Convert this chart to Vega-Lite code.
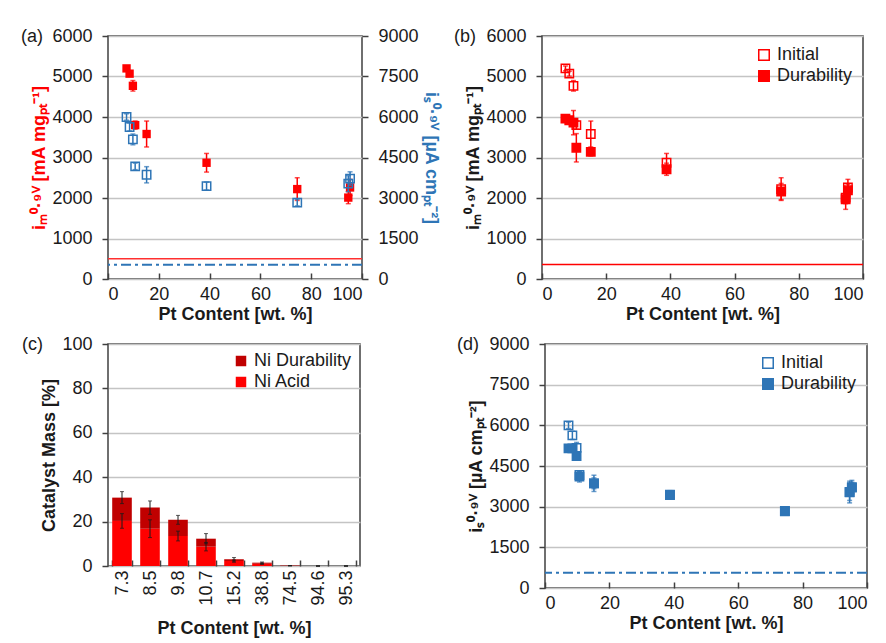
{
  "$schema": "https://vega.github.io/schema/vega-lite/v6.json",
  "background": "white",
  "padding": {"left": 20, "top": 26, "right": 5, "bottom": 5},
  "resolve": {"scale": {"fill": "independent", "color": "independent"}, "legend": {"fill": "independent", "color": "independent"}},
  "spacing": 10,
  "datasets": {
    "act": [
      {"pt": 7.3, "state": "Initial", "im": 5200, "im_err": 60, "is": 6000, "is_err": 120},
      {"pt": 8.5, "state": "Initial", "im": 5070, "im_err": 60, "is": 5630, "is_err": 150},
      {"pt": 9.8, "state": "Initial", "im": 4770, "im_err": 130, "is": 5170, "is_err": 200},
      {"pt": 10.7, "state": "Initial", "im": 3800, "im_err": 100, "is": 4170, "is_err": 120},
      {"pt": 15.2, "state": "Initial", "im": 3580, "im_err": 320, "is": 3860, "is_err": 300},
      {"pt": 38.8, "state": "Initial", "im": 2870, "im_err": 230, "is": 3440, "is_err": 150},
      {"pt": 74.5, "state": "Initial", "im": 2220, "im_err": 280, "is": 2830, "is_err": 120},
      {"pt": 94.6, "state": "Initial", "im": 2010, "im_err": 150, "is": 3530, "is_err": 300},
      {"pt": 95.3, "state": "Initial", "im": 2260, "im_err": 200, "is": 3720, "is_err": 250},
      {"pt": 7.3, "state": "Durability", "im": 3960, "im_err": 60, "is": 5150, "is_err": 100},
      {"pt": 8.5, "state": "Durability", "im": 3920, "im_err": 60, "is": 5150, "is_err": 100},
      {"pt": 9.8, "state": "Durability", "im": 3860, "im_err": 300, "is": 4870, "is_err": 150},
      {"pt": 10.7, "state": "Durability", "im": 3240, "im_err": 350, "is": 4110, "is_err": 200},
      {"pt": 15.2, "state": "Durability", "im": 3140, "im_err": 100, "is": 3860, "is_err": 200},
      {"pt": 38.8, "state": "Durability", "im": 2710, "im_err": 150, "is": 3430, "is_err": 150},
      {"pt": 74.5, "state": "Durability", "im": 2160, "im_err": 200, "is": 2840, "is_err": 100},
      {"pt": 94.6, "state": "Durability", "im": 1970, "im_err": 250, "is": 3540, "is_err": 400},
      {"pt": 95.3, "state": "Durability", "im": 2190, "im_err": 150, "is": 3700, "is_err": 200}
    ],
    "ni": [
      {"pt": "7.3", "Ni Acid": 20.3, "Ni Durability": 10.5, "total": 30.8, "total_err": 2.7, "acid_err": 3.3},
      {"pt": "8.5", "Ni Acid": 16.8, "Ni Durability": 9.5, "total": 26.3, "total_err": 3.0, "acid_err": 4.0},
      {"pt": "9.8", "Ni Acid": 13.5, "Ni Durability": 7.3, "total": 20.8, "total_err": 2.0, "acid_err": 2.2},
      {"pt": "10.7", "Ni Acid": 8.7, "Ni Durability": 3.6, "total": 12.3, "total_err": 2.3, "acid_err": 1.9},
      {"pt": "15.2", "Ni Acid": 2.2, "Ni Durability": 0.8, "total": 3.0, "total_err": 0.8, "acid_err": 0.5},
      {"pt": "38.8", "Ni Acid": 1.0, "Ni Durability": 0.5, "total": 1.5, "total_err": 0.3, "acid_err": 0.3},
      {"pt": "74.5", "Ni Acid": 0.1, "Ni Durability": 0.1, "total": 0.2, "total_err": 0, "acid_err": 0},
      {"pt": "94.6", "Ni Acid": 0, "Ni Durability": 0, "total": 0, "total_err": 0, "acid_err": 0},
      {"pt": "95.3", "Ni Acid": 0, "Ni Durability": 0, "total": 0, "total_err": 0, "acid_err": 0}
    ],
    "refs": [
      {"panel": "a_im", "y": 500},
      {"panel": "a_is", "y": 530},
      {"panel": "b_im", "y": 360},
      {"panel": "d_is", "y": 560}
    ]
  },
  "config": {
    "font": "Liberation Sans",
    "view": {"stroke": "#404040", "strokeWidth": 1.5},
    "axis": {
      "labelFont": "Liberation Sans", "titleFont": "Liberation Sans",
      "labelFontSize": 18, "titleFontSize": 18, "titleFontWeight": "bold",
      "labelColor": "#1a1a1a", "titleColor": "#1a1a1a",
      "domain": false, "tickColor": "#404040", "tickWidth": 1.5,
      "gridColor": "#c4c4c4", "gridWidth": 1.5
    },
    "axisQuantitative": {"format": "d"},
    "axisX": {"grid": false, "tickSize": -6, "labelPadding": 12, "titlePadding": 2},
    "axisY": {"tickSize": 6, "labelPadding": 10, "titlePadding": 3},
    "legend": {"labelFont": "Liberation Sans", "labelFontSize": 18, "labelColor": "#1a1a1a", "symbolSize": 110, "symbolType": "square", "padding": 0, "rowPadding": 3, "labelOffset": 4},
    "title": {"font": "Liberation Sans", "fontSize": 18, "fontWeight": "normal", "color": "#1a1a1a", "anchor": "start", "frame": "group", "baseline": "middle"}
  },
  "vconcat": [
    {
      "spacing": 13,
      "resolve": {"scale": {"fill": "independent", "color": "independent"}, "legend": {"fill": "independent", "color": "independent"}},
      "hconcat": [
        {
          "width": 254, "height": 243,
          "title": {"text": "(a)", "dx": -87, "offset": -19},
          "layer": [
            {
              "layer": [
                {
                  "data": {"name": "refs"},
                  "transform": [{"filter": "datum.panel === 'a_im'"}],
                  "mark": {"type": "rule", "color": "#ff3030", "strokeWidth": 1.5},
                  "encoding": {
                    "y": {"field": "y", "type": "quantitative", "scale": {"domain": [0, 6000], "nice": false}, "title": "iₘ⁰·⁹ⱽ [mA mgₚₜ⁻¹]",
                      "axis": {"values": [0, 1000, 2000, 3000, 4000, 5000, 6000], "titleColor": "#ff0000"}}
                  }
                },
                {
                  "data": {"name": "act"},
                  "transform": [{"filter": "datum.state === 'Initial'"}],
                  "mark": {"type": "errorbar", "ticks": {"size": 5}, "color": "#ff0000", "thickness": 1.5},
                  "encoding": {
                    "x": {"field": "pt", "type": "quantitative", "scale": {"domain": [0, 100]}, "title": "Pt Content [wt. %]"},
                    "y": {"field": "im", "type": "quantitative", "title": "iₘ⁰·⁹ⱽ [mA mgₚₜ⁻¹]"},
                    "yError": {"field": "im_err"}
                  }
                },
                {
                  "data": {"name": "act"},
                  "transform": [{"filter": "datum.state === 'Initial'"}],
                  "mark": {"type": "square", "filled": true, "color": "#ff0000", "size": 70, "opacity": 1},
                  "encoding": {
                    "x": {"field": "pt", "type": "quantitative", "scale": {"domain": [0, 100]}, "title": "Pt Content [wt. %]",
                      "axis": {"values": [0, 20, 40, 60, 80, 100]}},
                    "y": {"field": "im", "type": "quantitative", "title": "iₘ⁰·⁹ⱽ [mA mgₚₜ⁻¹]"}
                  }
                }
              ]
            },
            {
              "layer": [
                {
                  "data": {"name": "refs"},
                  "transform": [{"filter": "datum.panel === 'a_is'"}],
                  "mark": {"type": "rule", "color": "#2e75b6", "strokeWidth": 2, "strokeDash": [10, 4, 3, 4]},
                  "encoding": {
                    "y": {"field": "y", "type": "quantitative", "scale": {"domain": [0, 9000], "nice": false}, "title": "iₛ⁰·⁹ⱽ [µA cmₚₜ⁻²]",
                      "axis": {"orient": "right", "grid": false, "values": [0, 1500, 3000, 4500, 6000, 7500, 9000], "titleColor": "#2e75b6"}}
                  }
                },
                {
                  "data": {"name": "act"},
                  "transform": [{"filter": "datum.state === 'Initial'"}],
                  "mark": {"type": "errorbar", "ticks": {"size": 5}, "color": "#2e75b6", "thickness": 1.5},
                  "encoding": {
                    "x": {"field": "pt", "type": "quantitative", "title": "Pt Content [wt. %]"},
                    "y": {"field": "is", "type": "quantitative", "title": "iₛ⁰·⁹ⱽ [µA cmₚₜ⁻²]"},
                    "yError": {"field": "is_err"}
                  }
                },
                {
                  "data": {"name": "act"},
                  "transform": [{"filter": "datum.state === 'Initial'"}],
                  "mark": {"type": "square", "filled": false, "color": "#2e75b6", "size": 70, "strokeWidth": 1.5, "opacity": 1},
                  "encoding": {
                    "x": {"field": "pt", "type": "quantitative", "title": "Pt Content [wt. %]"},
                    "y": {"field": "is", "type": "quantitative", "title": "iₛ⁰·⁹ⱽ [µA cmₚₜ⁻²]"}
                  }
                }
              ]
            }
          ],
          "resolve": {"scale": {"y": "independent"}, "axis": {"y": "independent"}}
        },
        {
          "width": 321, "height": 243,
          "title": {"text": "(b)", "dx": -88, "offset": -19},
          "layer": [
            {
              "data": {"name": "refs"},
              "transform": [{"filter": "datum.panel === 'b_im'"}],
              "mark": {"type": "rule", "color": "#ff0000", "strokeWidth": 1.5},
              "encoding": {
                "y": {"field": "y", "type": "quantitative", "scale": {"domain": [0, 6000], "nice": false}, "title": "iₘ⁰·⁹ⱽ [mA mgₚₜ⁻¹]",
                  "axis": {"values": [0, 1000, 2000, 3000, 4000, 5000, 6000]}}
              }
            },
            {
              "data": {"name": "act"},
              "mark": {"type": "errorbar", "ticks": {"size": 5}, "color": "#ff0000", "thickness": 1.5},
              "encoding": {
                "x": {"field": "pt", "type": "quantitative", "scale": {"domain": [0, 100]}, "title": "Pt Content [wt. %]"},
                "y": {"field": "im", "type": "quantitative", "title": "iₘ⁰·⁹ⱽ [mA mgₚₜ⁻¹]"},
                "yError": {"field": "im_err"}
              }
            },
            {
              "data": {"name": "act"},
              "mark": {"type": "square", "stroke": "#ff0000", "strokeWidth": 1.5, "size": 70, "opacity": 1},
              "encoding": {
                "x": {"field": "pt", "type": "quantitative", "scale": {"domain": [0, 100]}, "title": "Pt Content [wt. %]",
                  "axis": {"values": [0, 20, 40, 60, 80, 100]}},
                "y": {"field": "im", "type": "quantitative", "title": "iₘ⁰·⁹ⱽ [mA mgₚₜ⁻¹]"},
                "fill": {"field": "state", "type": "nominal",
                  "scale": {"domain": ["Initial", "Durability"], "range": ["transparent", "#ff0000"]},
                  "legend": {"title": null, "orient": "top-right", "offset": 10, "symbolStrokeColor": "#ff0000", "symbolStrokeWidth": 1.5}}
              }
            }
          ]
        }
      ]
    },
    {
      "spacing": 95,
      "resolve": {"scale": {"fill": "independent", "color": "independent"}, "legend": {"fill": "independent", "color": "independent"}},
      "hconcat": [
        {
          "width": 252, "height": 222,
          "title": {"text": "(c)", "dx": -86, "offset": -19},
          "data": {"name": "ni"},
          "layer": [
            {
              "transform": [{"fold": ["Ni Acid", "Ni Durability"], "as": ["type", "value"]}],
              "mark": {"type": "bar"},
              "encoding": {
                "x": {"field": "pt", "type": "ordinal", "sort": ["7.3", "8.5", "9.8", "10.7", "15.2", "38.8", "74.5", "94.6", "95.3"], "title": "Pt Content [wt. %]",
                  "scale": {"paddingInner": 0.3, "paddingOuter": 0.15},
                  "axis": {"labelAngle": 270, "labelAlign": "right", "labelBaseline": "middle", "labelPadding": 10, "tickBand": "extent", "titlePadding": 14}},
                "y": {"field": "value", "type": "quantitative", "stack": "zero", "scale": {"domain": [0, 100], "nice": false}, "title": "Catalyst Mass [%]",
                  "axis": {"values": [0, 20, 40, 60, 80, 100]}},
                "color": {"field": "type", "type": "nominal",
                  "scale": {"domain": ["Ni Durability", "Ni Acid"], "range": ["#c00000", "#ff0000"]},
                  "legend": {"title": null, "orient": "top-right", "offset": 8}},
                "order": {"field": "type", "sort": "ascending"}
              }
            },
            {
              "mark": {"type": "errorbar", "ticks": {"size": 4}, "color": "#1a1a1a", "thickness": 1},
              "encoding": {
                "x": {"field": "pt", "type": "ordinal", "sort": ["7.3", "8.5", "9.8", "10.7", "15.2", "38.8", "74.5", "94.6", "95.3"], "title": "Pt Content [wt. %]"},
                "y": {"field": "total", "type": "quantitative", "title": "Catalyst Mass [%]"},
                "yError": {"field": "total_err"}
              }
            },
            {
              "mark": {"type": "errorbar", "ticks": {"size": 4}, "color": "#1a1a1a", "thickness": 1},
              "encoding": {
                "x": {"field": "pt", "type": "ordinal", "sort": ["7.3", "8.5", "9.8", "10.7", "15.2", "38.8", "74.5", "94.6", "95.3"], "title": "Pt Content [wt. %]"},
                "y": {"field": "Ni Acid", "type": "quantitative", "title": "Catalyst Mass [%]"},
                "yError": {"field": "acid_err"}
              }
            }
          ]
        },
        {
          "width": 322, "height": 244,
          "title": {"text": "(d)", "dx": -88, "offset": -19},
          "layer": [
            {
              "data": {"name": "refs"},
              "transform": [{"filter": "datum.panel === 'd_is'"}],
              "mark": {"type": "rule", "color": "#2e75b6", "strokeWidth": 2, "strokeDash": [10, 4, 3, 4]},
              "encoding": {
                "y": {"field": "y", "type": "quantitative", "scale": {"domain": [0, 9000], "nice": false}, "title": "iₛ⁰·⁹ⱽ [µA cmₚₜ⁻²]",
                  "axis": {"values": [0, 1500, 3000, 4500, 6000, 7500, 9000]}}
              }
            },
            {
              "data": {"name": "act"},
              "mark": {"type": "errorbar", "ticks": {"size": 5}, "color": "#2e75b6", "thickness": 1.5},
              "encoding": {
                "x": {"field": "pt", "type": "quantitative", "scale": {"domain": [0, 100]}, "title": "Pt Content [wt. %]"},
                "y": {"field": "is", "type": "quantitative", "title": "iₛ⁰·⁹ⱽ [µA cmₚₜ⁻²]"},
                "yError": {"field": "is_err"}
              }
            },
            {
              "data": {"name": "act"},
              "mark": {"type": "square", "stroke": "#2e75b6", "strokeWidth": 1.5, "size": 70, "opacity": 1},
              "encoding": {
                "x": {"field": "pt", "type": "quantitative", "scale": {"domain": [0, 100]}, "title": "Pt Content [wt. %]",
                  "axis": {"values": [0, 20, 40, 60, 80, 100]}},
                "y": {"field": "is", "type": "quantitative", "title": "iₛ⁰·⁹ⱽ [µA cmₚₜ⁻²]"},
                "fill": {"field": "state", "type": "nominal",
                  "scale": {"domain": ["Initial", "Durability"], "range": ["transparent", "#2e75b6"]},
                  "legend": {"title": null, "orient": "top-right", "offset": 10, "symbolStrokeColor": "#2e75b6", "symbolStrokeWidth": 1.5}}
              }
            }
          ]
        }
      ]
    }
  ]
}
